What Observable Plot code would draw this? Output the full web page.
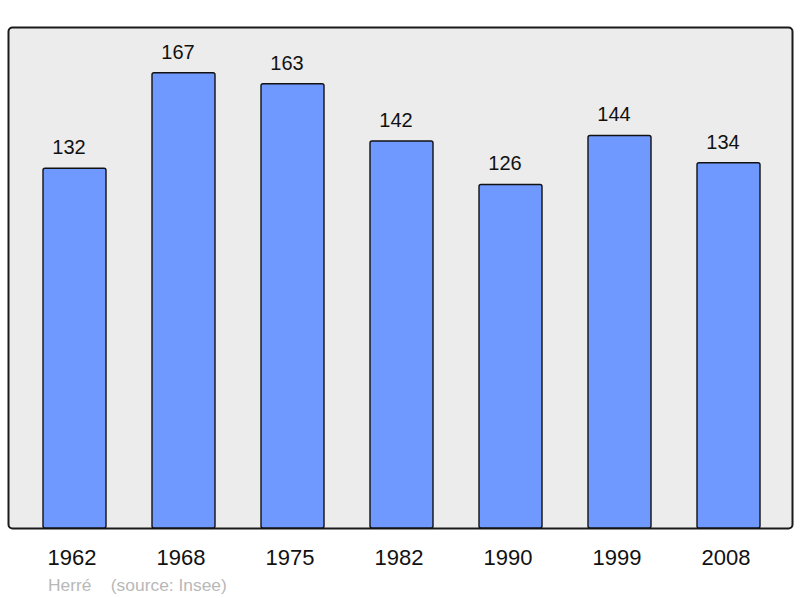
<!DOCTYPE html>
<html>
<head>
<meta charset="utf-8">
<script src="https://cdn.jsdelivr.net/npm/d3@7"></script>
<script src="https://cdn.jsdelivr.net/npm/@observablehq/plot@0.6"></script>
<style>
  html, body { margin: 0; padding: 0; background: #fff; }
  #caption { font-family: "Liberation Sans", Arial, sans-serif; font-size: 17.4px; line-height: 20px; color: #b8b8b8; padding-left: 48px; white-space: pre; }
</style>
</head>
<body>
<div id="chart"></div>
<div id="caption"></div>
<script>
const years = ["1962", "1968", "1975", "1982", "1990", "1999", "2008"];
const population = [132, 167, 163, 142, 126, 144, 134];
const captionText = "Herré    (source: Insee)";

const data = years.map((year, i) => ({year, value: population[i]}));
const font = "Liberation Sans, Arial, sans-serif";

const chart = Plot.plot({
  width: 800,
  height: 575,
  marginTop: 27,
  marginBottom: 47,
  marginLeft: 8,
  marginRight: 8,
  style: {fontFamily: font, background: "#fff"},
  x: {domain: years, range: [42, 761], paddingInner: 0.424, paddingOuter: 0, axis: null},
  y: {domain: [0, 183.8], axis: null},
  marks: [
    Plot.frame({fill: "#ececec", stroke: "#1a1a1a", strokeWidth: 2, rx: 4}),
    Plot.barY(data, {x: "year", y: "value", fill: "#7099ff", stroke: "#111", strokeWidth: 1.4, rx: 2}),
    Plot.text(data, {x: "year", y: "value", text: d => String(d.value), lineAnchor: "middle", dy: -21, dx: -6, fontSize: 20, fill: "#111"}),
    Plot.text(data, {x: "year", y: () => 0, text: "year", lineAnchor: "middle", dy: 29, dx: -3, fontSize: 22, fill: "#111", style: "letter-spacing: 1.5px"})
  ]
});
document.getElementById("chart").appendChild(chart);
document.getElementById("caption").textContent = captionText;
</script>
</body>
</html>
